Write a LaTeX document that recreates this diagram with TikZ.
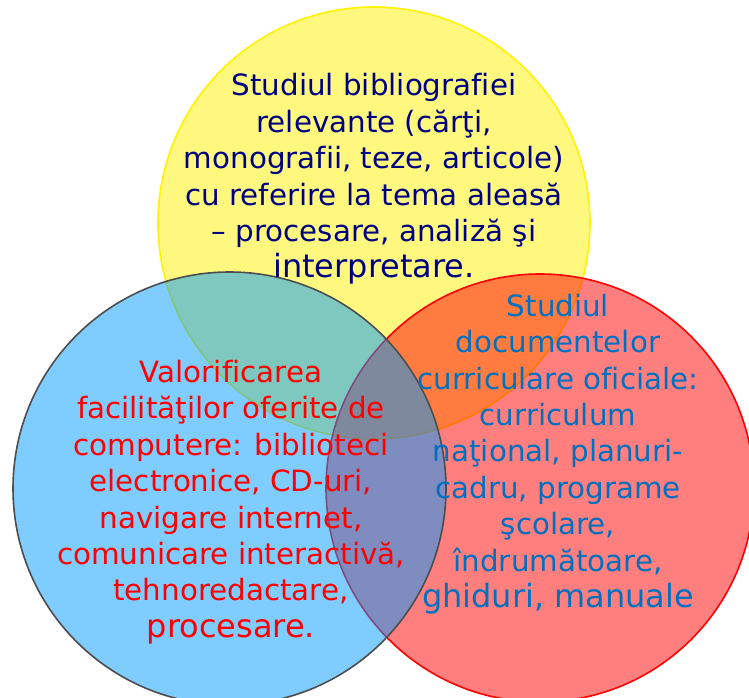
\documentclass[tikz,border=0pt]{standalone}
\usepackage{fontspec}
\setmainfont{DejaVu Sans}[Ligatures=NoCommon]

\definecolor{textnavy}{RGB}{0,0,128}
\definecolor{textblue}{RGB}{0,112,192}
\definecolor{ringgray}{RGB}{77,77,77}
\definecolor{skyblue}{RGB}{0,153,255}

\tikzset{
	ring/.style={line width=1.2pt, fill opacity=0.5},
	circletext/.style={align=center, inner sep=0pt, font=\fontsize{22}{27.3}\selectfont}
}
% last line of each set is set a little larger
\newcommand{\lastline}[1]{{\fontsize{24}{27.3}\selectfont #1}}

\begin{document}
\begin{tikzpicture}[x=0.75pt, y=-0.75pt]
			%%%%% START %%%%%
			\useasboundingbox (0, 0) rectangle (749, 698);
			
			% the three sets, yellow first so the others tint it
			\draw[ring, draw=yellow, fill=yellow] (374, 223) circle (216);
			\draw[ring, draw=red, fill=red] (540, 488) circle (214);
			\draw[ring, draw=ringgray, fill=skyblue] (229.5, 488.5) circle (216.5);
			
			\node[circletext, text=textnavy] (bibliografie) at (374, 179) {Studiul bibliografiei\\relevante (cărţi,\\monografii, teze, articole)\\cu referire la tema aleasă\\– procesare, analiză şi\\\lastline{interpretare.}};
			
			\node[circletext, text=red] (computere) at (231, 502) {Valorificarea\\facilităţilor oferite de\\computere: biblioteci\\electronice, CD-uri,\\navigare internet,\\comunicare interactivă,\\tehnoredactare,\\\lastline{procesare.}};
			
			\node[circletext, text=textblue] (documente) at (558, 454) {Studiul\\documentelor\\curriculare oficiale:\\curriculum\\naţional, planuri-\\cadru, programe\\şcolare,\\îndrumătoare,\\\lastline{ghiduri, manuale}};
			
			%%%%% END %%%%%
\end{tikzpicture}
\end{document}
